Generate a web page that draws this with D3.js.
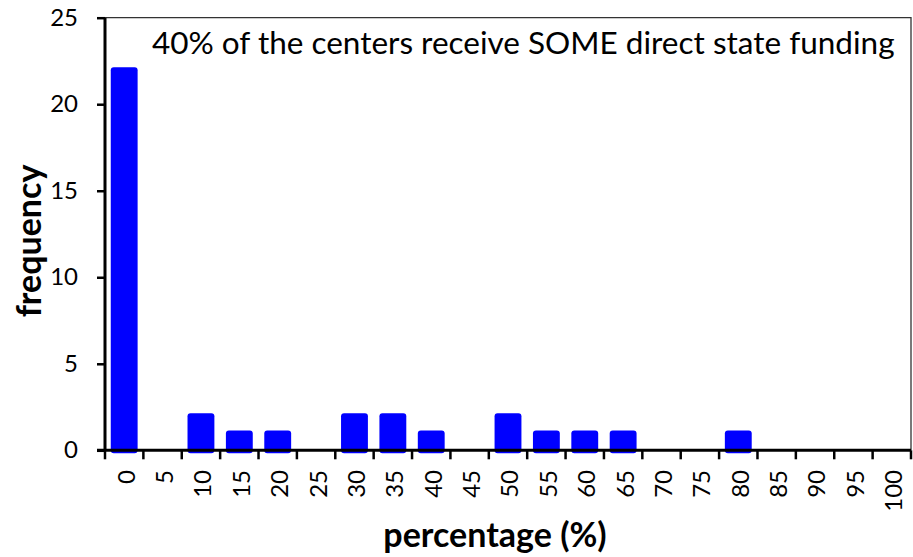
<!DOCTYPE html>
<html>
<head>
<meta charset="utf-8">
<script src="https://cdn.jsdelivr.net/npm/d3@7"></script>
<style>
    body { margin: 0; background: #fff; }
    svg { display: block; font-family: Lato, 'Open Sans', sans-serif; }
</style>
</head>
<body>
<svg id="chart" width="913" height="557"></svg>
<script>
const categories = ['0', '5', '10', '15', '20', '25', '30', '35', '40', '45', '50',
    '55', '60', '65', '70', '75', '80', '85', '90', '95', '100'];
const frequency = [22, 0, 2, 1, 1, 0, 2, 2, 1, 0, 2, 1, 1, 1, 0, 0, 1, 0, 0, 0, 0];
const yTicks = [0, 5, 10, 15, 20, 25];
const note = '40% of the centers receive SOME direct state funding';

const plotLeft = 105, plotRight = 911, plotTop = 17.7, plotBottom = 450.3;
const svg = d3.select('#chart');

const x = d3.scaleBand()
    .domain(categories)
    .range([plotLeft, plotRight])
    .paddingInner(0.3)
    .paddingOuter(0.15);
const y = d3.scaleLinear().domain([0, 25]).range([plotBottom, plotTop]);
const step = x.step();

// frame (top and right)
svg.append('path')
    .attr('d', `M${plotLeft},${plotTop}H${plotRight}V${plotBottom}`)
    .attr('fill', 'none')
    .attr('stroke', '#333')
    .attr('stroke-width', 1.3);

// bars, drawn a little past the axis so the axis covers their foot
const data = categories.map((c, i) => ({ c, v: frequency[i] })).filter(d => d.v > 0);
svg.append('g')
    .selectAll('rect')
    .data(data)
    .enter()
    .append('rect')
    .attr('x', d => x(d.c))
    .attr('y', d => y(d.v) - 2.4)
    .attr('width', x.bandwidth())
    .attr('height', d => y(0) - y(d.v) + 5.4)
    .attr('rx', 3)
    .attr('fill', '#0000ff');

// y axis
const yAxis = svg.append('g')
    .attr('transform', `translate(${plotLeft},0)`)
    .call(d3.axisLeft(y).tickValues(yTicks).tickSize(8).tickPadding(19));
yAxis.select('.domain').attr('stroke', '#000').attr('stroke-width', 3)
    .attr('d', `M0,${plotTop}V${plotBottom}`);
yAxis.selectAll('.tick line').attr('stroke', '#000').attr('stroke-width', 2.5);
yAxis.selectAll('.tick text').attr('font-size', 24).attr('font-family', 'Lato').attr('fill', '#000');

// x axis: boundary ticks between categories
const bounds = categories.map(c => x(c) - step * 0.15).concat([plotRight]);
svg.append('g')
    .selectAll('line')
    .data(bounds)
    .enter()
    .append('line')
    .attr('x1', d => d)
    .attr('x2', d => d)
    .attr('y1', plotBottom)
    .attr('y2', plotBottom + 9)
    .attr('stroke', '#000')
    .attr('stroke-width', 2.5);
svg.append('line')
    .attr('x1', plotLeft - 8)
    .attr('x2', plotRight)
    .attr('y1', plotBottom)
    .attr('y2', plotBottom)
    .attr('stroke', '#000')
    .attr('stroke-width', 3);

svg.append('g')
    .selectAll('text')
    .data(categories)
    .enter()
    .append('text')
    .attr('transform', d => `translate(${x(d) + x.bandwidth() / 2 + 2},470) rotate(-90)`)
    .attr('text-anchor', 'end')
    .attr('dy', '0.35em')
    .attr('font-size', 24)
    .text(d => d);

// axis titles
svg.append('text')
    .attr('transform', 'translate(41,241) rotate(-90)')
    .attr('text-anchor', 'middle')
    .attr('font-weight', 'bold')
    .attr('font-size', 34)
    .text('frequency');
svg.append('text')
    .attr('x', 495)
    .attr('y', 547)
    .attr('text-anchor', 'middle')
    .attr('font-weight', 'bold')
    .attr('font-size', 34)
    .text('percentage (%)');

// annotation
svg.append('text')
    .attr('x', 152)
    .attr('y', 54)
    .attr('font-size', 31.5)
    .text(note);
</script>
</body>
</html>
